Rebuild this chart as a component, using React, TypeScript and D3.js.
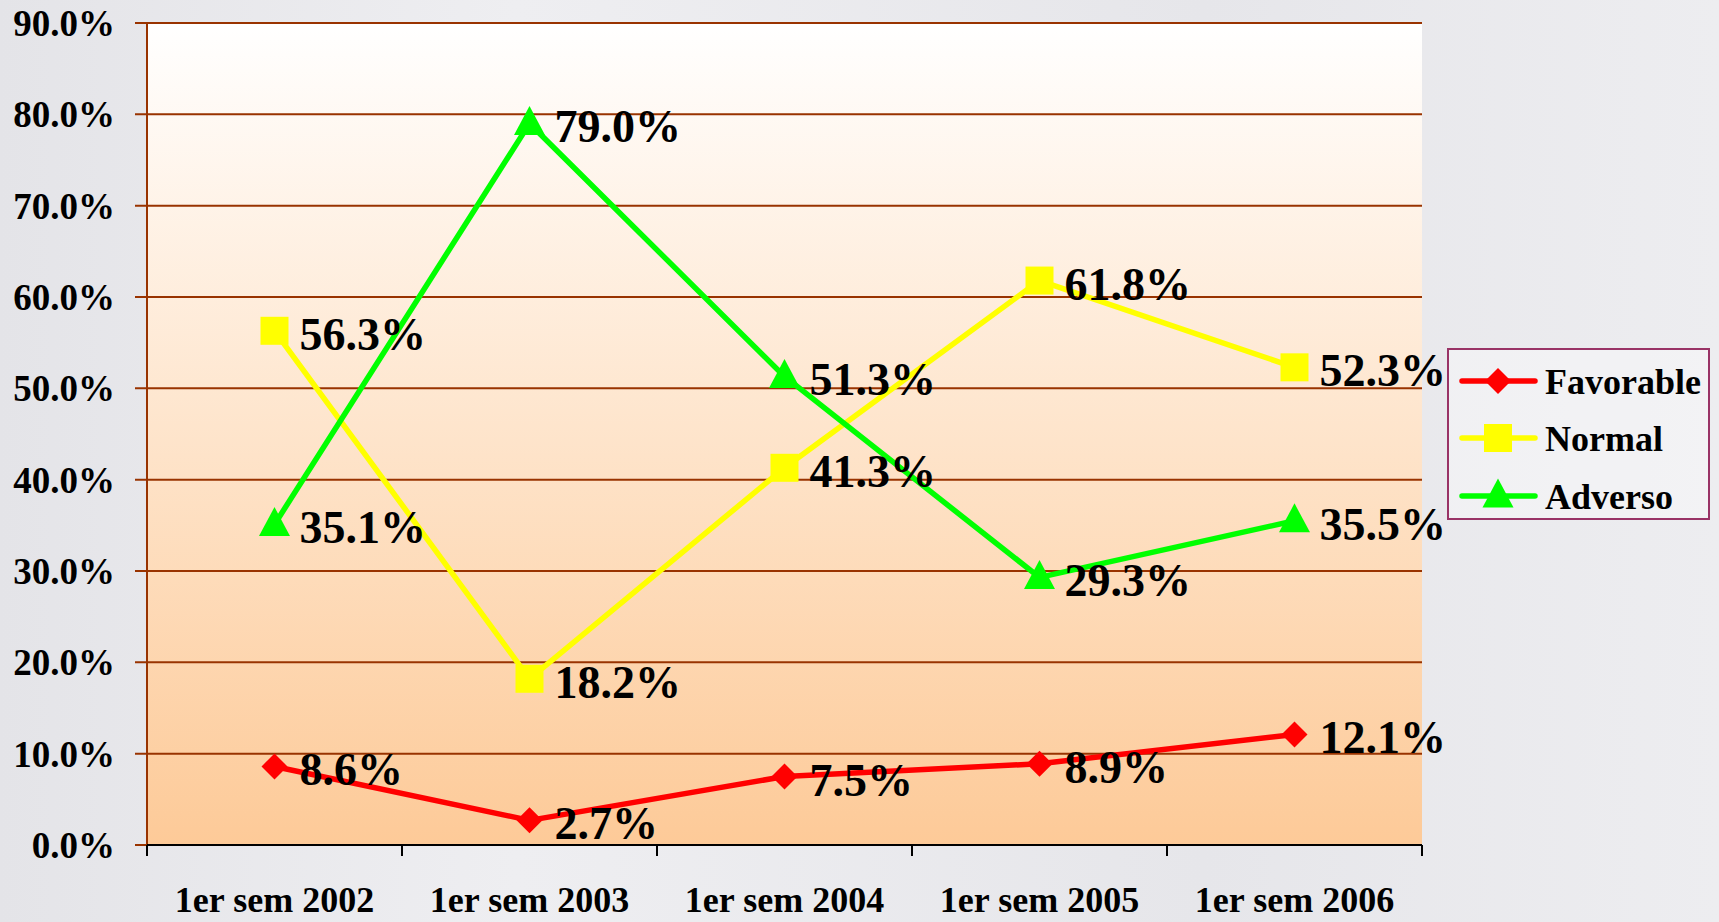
import React from "react";
import * as d3 from "d3";

const categories = ["1er sem 2002", "1er sem 2003", "1er sem 2004", "1er sem 2005", "1er sem 2006"];
const favorable = [8.6, 2.7, 7.5, 8.9, 12.1];
const normal = [56.3, 18.2, 41.3, 61.8, 52.3];
const adverso = [35.1, 79.0, 51.3, 29.3, 35.5];
const yTicks = [0, 10, 20, 30, 40, 50, 60, 70, 80, 90];
const seriesNames = ["Favorable", "Normal", "Adverso"];

const W = 1719, H = 922;
const FONT = "'Liberation Serif', 'Times New Roman', serif";

export default function App() {
  const left = 147, right = 1422, top = 23, bottom = 845;
  const x = d3.scaleBand<string>().domain(categories).range([left, right]);
  const y = d3.scaleLinear().domain([0, 90]).range([bottom, top]);
  const cx = (c: string) => (x(c) as number) + x.bandwidth() / 2;

  const series = [
    { name: seriesNames[0], values: favorable, color: "#FF0000", marker: "diamond" },
    { name: seriesNames[1], values: normal, color: "#FFFF00", marker: "square" },
    { name: seriesNames[2], values: adverso, color: "#00FF00", marker: "triangle" },
  ];

  const line = d3.line<number>().x((_, i) => cx(categories[i])).y((v) => y(v));

  const marker = (type: string, px: number, py: number, color: string, key: string) => {
    if (type === "diamond") {
      const r = 13;
      return <path key={key} d={`M${px},${py - r}L${px + r},${py}L${px},${py + r}L${px - r},${py}Z`} fill={color} />;
    }
    if (type === "square") {
      const s = 28;
      return <rect key={key} x={px - s / 2} y={py - s / 2} width={s} height={s} fill={color} />;
    }
    const w = 31, h = 29;
    return <path key={key} d={`M${px},${py - h * 0.6}L${px + w / 2},${py + h * 0.4}L${px - w / 2},${py + h * 0.4}Z`} fill={color} />;
  };

  const legendX = 1448, legendY = 349, legendW = 261, legendH = 170;
  const legendRows = [381, 438, 496];

  return (
    <svg width={W} height={H} style={{ position: "fixed", left: 0, top: 0 }} fontFamily={FONT}>
      <defs>
        <linearGradient id="plotGrad" x1="0" y1="0" x2="0" y2="1">
          <stop offset="0%" stopColor="#FFFFFF" />
          <stop offset="100%" stopColor="#FDCA98" />
        </linearGradient>
        <linearGradient id="bgGrad" x1="0" y1="0" x2="1" y2="0">
          <stop offset="0%" stopColor="#E4E4E8" />
          <stop offset="30%" stopColor="#EEEEF1" />
          <stop offset="70%" stopColor="#E6E6EA" />
          <stop offset="100%" stopColor="#EDEDF0" />
        </linearGradient>
      </defs>
      <rect x={0} y={0} width={W} height={H} fill="url(#bgGrad)" />
      <rect x={left} y={top} width={right - left} height={bottom - top} fill="url(#plotGrad)" />

      {/* gridlines */}
      {yTicks.map((t) => (
        <line key={"g" + t} x1={left - 12} x2={right} y1={y(t)} y2={y(t)} stroke="#993300" strokeWidth={2} />
      ))}
      <line x1={left} x2={left} y1={top} y2={bottom} stroke="#993300" strokeWidth={2} />
      {/* x axis */}
      <line x1={left} x2={right} y1={bottom} y2={bottom} stroke="#000" strokeWidth={2} />
      {d3.range(categories.length + 1).map((i) => {
        const xx = left + i * x.bandwidth();
        return <line key={"xt" + i} x1={xx} x2={xx} y1={bottom} y2={bottom + 11} stroke="#000" strokeWidth={2} />;
      })}

      {yTicks.map((t) => (
        <text key={"yl" + t} x={115} y={y(t) + 13} textAnchor="end" fontSize={37} fontWeight="bold" fill="#000">
          {t.toFixed(1) + "%"}
        </text>
      ))}
      {categories.map((c) => (
        <text key={c} x={cx(c)} y={912} textAnchor="middle" fontSize={36} fontWeight="bold" fill="#000">
          {c}
        </text>
      ))}

      {series.map((s) => (
        <g key={s.name}>
          <path d={line(s.values) || ""} fill="none" stroke={s.color} strokeWidth={5.5} strokeLinejoin="round" />
          {s.values.map((v, i) => marker(s.marker, cx(categories[i]), y(v), s.color, s.name + i))}
        </g>
      ))}
      {series.map((s) =>
        s.values.map((v, i) => (
          <text key={"lbl" + s.name + i} x={cx(categories[i]) + 25} y={y(v) + 19} fontSize={46} fontWeight="bold" fill="#000">
            {v.toFixed(1) + "%"}
          </text>
        ))
      )}

      {/* legend */}
      <rect x={legendX} y={legendY} width={legendW} height={legendH} fill="rgba(255,255,255,0.35)" stroke="#993366" strokeWidth={2} />
      {series.map((s, i) => (
        <g key={"leg" + s.name}>
          <line x1={1462} x2={1535} y1={legendRows[i]} y2={legendRows[i]} stroke={s.color} strokeWidth={5.5} strokeLinecap="round" />
          {marker(s.marker, 1498, legendRows[i], s.color, "lm" + i)}
          <text x={1545} y={legendRows[i] + 13} fontSize={36} fontWeight="bold" fill="#000">
            {s.name}
          </text>
        </g>
      ))}
    </svg>
  );
}
